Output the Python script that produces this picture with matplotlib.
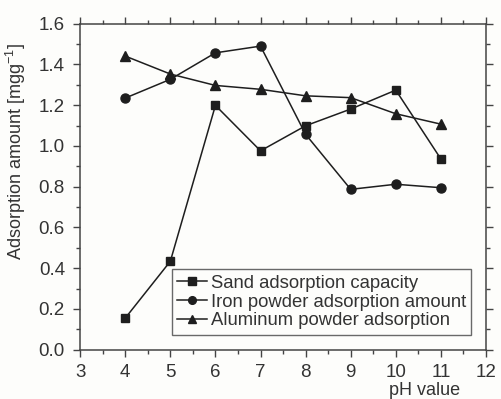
import matplotlib.pyplot as plt
from matplotlib.ticker import MultipleLocator

plt.rcParams['font.family'] = ['Liberation Sans', 'DejaVu Sans']
plt.rcParams['mathtext.default'] = 'regular'

ph = [4, 5, 6, 7, 8, 9, 10, 11]
sand = [0.155, 0.434, 1.199, 0.976, 1.099, 1.181, 1.274, 0.936]
iron = [1.235, 1.327, 1.457, 1.490, 1.057, 0.787, 0.812, 0.795]
alum = [1.441, 1.353, 1.297, 1.278, 1.246, 1.237, 1.158, 1.107]
labels = ["Sand adsorption capacity",
          "Iron powder adsorption amount",
          "Aluminum powder adsorption"]

fig = plt.figure(figsize=(5.01, 3.99), dpi=100)
fig.patch.set_facecolor("#fdfdfb")
ax = fig.add_axes([0.160, 0.1236, 0.810, 0.817])
ax.set_facecolor("#fdfdfb")

c = "#1e1e1e"
ax.plot(ph, sand, color=c, marker="s", ms=6, lw=1.1, label=labels[0])
ax.plot(ph, iron, color=c, marker="o", ms=6.5, lw=1.1, label=labels[1])
ax.plot(ph, alum, color=c, marker="^", ms=7, lw=1.1, label=labels[2])

ax.set_xlim(3, 12)
ax.set_ylim(0, 1.6)
ax.xaxis.set_major_locator(MultipleLocator(1))
ax.xaxis.set_minor_locator(MultipleLocator(0.5))
ax.yaxis.set_major_locator(MultipleLocator(0.2))
ax.yaxis.set_minor_locator(MultipleLocator(0.1))
ax.yaxis.set_major_formatter(plt.FuncFormatter(lambda v, p: f"{v:.1f}"))

ax.tick_params(which="both", direction="out", top=True, right=True,
               labeltop=False, labelright=False, color="#444444", width=1)
ax.tick_params(which="major", length=5, labelsize=13.5, labelcolor="#333333")
ax.tick_params(axis="y", which="major", pad=6)
ax.tick_params(axis="x", which="major", pad=5)
ax.tick_params(which="minor", length=3)
for s in ax.spines.values():
    s.set_color("#444444")
    s.set_linewidth(1.1)

ax.set_ylabel("Adsorption amount [mgg$^{-1}$]", fontsize=13, color="#333333")
ax.yaxis.set_label_coords(-0.128, 0.608)
ax.set_xlabel("pH value", fontsize=13, color="#333333")
ax.xaxis.set_label_coords(0.848, -0.098)

leg = ax.legend(loc="lower left", bbox_to_anchor=(0.226, 0.045), fontsize=13.3,
                frameon=True, fancybox=False, edgecolor="#444444",
                handlelength=1.6, handletextpad=0.2, borderpad=0.3,
                labelspacing=0.1, borderaxespad=0, markerscale=0.85)
leg.get_frame().set_linewidth(1.0)
leg.get_frame().set_facecolor("#fdfdfb")
for t in leg.get_texts():
    t.set_color("#333333")

fig.savefig("out.png", dpi=100, facecolor=fig.get_facecolor())
